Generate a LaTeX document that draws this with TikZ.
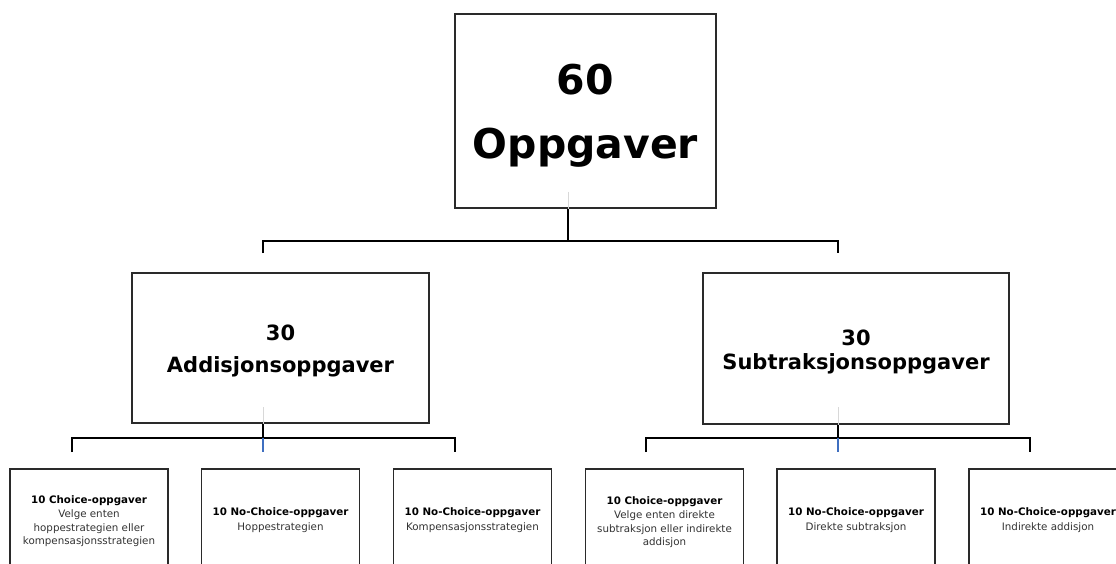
\documentclass[tikz,border=0pt]{standalone}
\usepackage{fontspec}
\setmainfont{DejaVu Sans}
\definecolor{boxline}{HTML}{2A2A2A}
\definecolor{subtext}{HTML}{333333}
\definecolor{faint}{HTML}{D8D8D8}
\definecolor{bluish}{HTML}{3F6FC0}
\newcommand{\myfs}[1]{\fontsize{#1}{#1}\selectfont}
\begin{document}
\begin{tikzpicture}[x=1pt,y=-1pt,
  box/.style={draw=boxline, line width=1.4pt, rectangle, inner sep=0pt, fill=white},
  conn/.style={draw=black, line width=1.3pt},
  faintline/.style={draw=faint, line width=1pt},
  blueline/.style={draw=bluish, line width=1.3pt},
  bigtxt/.style={anchor=base, inner sep=0pt, font=\bfseries\myfs{41}},
  midtxt/.style={anchor=base, inner sep=0pt, font=\bfseries\myfs{21}},
  smallbold/.style={anchor=base, inner sep=0pt, font=\bfseries\myfs{10.3}},
  smalltxt/.style={anchor=base, inner sep=0pt, text=subtext, font=\myfs{10.3}}]
\useasboundingbox (0,0) rectangle (1116,564);
\fill[white] (0,0) rectangle (1116,564);

% boxes
\node[box, minimum width=261pt, minimum height=194pt] (top) at (585.5,111) {};
\node[box, minimum width=297pt, minimum height=150pt] (add) at (280.5,348) {};
\node[box, minimum width=306pt, minimum height=151pt] (sub) at (856,348.5) {};
\foreach \n/\x in {b1/89, b2/280.5, b3/472.5, b4/664.5, b5/856, b6/1048}
  \node[box, minimum width=158pt, minimum height=104pt] (\n) at (\x,521) {};

% texts
\node[bigtxt] (t60) at (585.5,95) {60};
\node[bigtxt] (tOpp) at (585.5,159) {Oppgaver};
\node[midtxt] (a30) at (280.5,340.5) {30};
\node[midtxt] (aTxt) at (280.5,372.7) {Addisjonsoppgaver};
\node[midtxt] (s30) at (856,345.4) {30};
\node[midtxt] (sTxt) at (856,369.4) {Subtraksjonsoppgaver};

\node[smallbold] (b1a) at (89,503) {10 Choice-oppgaver};
\node[smalltxt] (b1b) at (89,517) {Velge enten};
\node[smalltxt] (b1c) at (89,531) {hoppestrategien eller};
\node[smalltxt] (b1d) at (89,544.5) {kompensasjonsstrategien};

\node[smallbold] (b2a) at (280.5,515) {10 No-Choice-oppgaver};
\node[smalltxt] (b2b) at (280.5,530) {Hoppestrategien};

\node[smallbold] (b3a) at (472.5,515) {10 No-Choice-oppgaver};
\node[smalltxt] (b3b) at (472.5,530) {Kompensasjonsstrategien};

\node[smallbold] (b4a) at (664.5,504) {10 Choice-oppgaver};
\node[smalltxt] (b4b) at (664.5,518) {Velge enten direkte};
\node[smalltxt] (b4c) at (664.5,532) {subtraksjon eller indirekte};
\node[smalltxt] (b4d) at (664.5,545) {addisjon};

\node[smallbold] (b5a) at (856,515) {10 No-Choice-oppgaver};
\node[smalltxt] (b5b) at (856,530) {Direkte subtraksjon};

\node[smallbold] (b6a) at (1048,515) {10 No-Choice-oppgaver};
\node[smalltxt] (b6b) at (1048,530) {Indirekte addisjon};

% junction coordinates
\coordinate (j0) at (568,241);
\coordinate (j0l) at (263,241);
\coordinate (j0r) at (838,241);
\coordinate (d0l) at (263,253);
\coordinate (d0r) at (838,253);

\coordinate (ja) at (263,438);
\coordinate (jal) at (72,438);
\coordinate (jar) at (455,438);
\coordinate (dal) at (72,452);
\coordinate (dam) at (263,452);
\coordinate (dar) at (455,452);

\coordinate (js) at (838,438);
\coordinate (jsl) at (646,438);
\coordinate (jsr) at (1030,438);
\coordinate (dsl) at (646,452);
\coordinate (dsm) at (838,452);
\coordinate (dsr) at (1030,452);

% faint marks inside boxes
\draw[faintline] (568,192) -- (top.south -| j0);
\draw[faintline] (263,407) -- (add.south -| ja);
\draw[faintline] (838,407) -- (sub.south -| js);

% connectors
\draw[conn] (top.south -| j0) -- (j0);
\draw[conn] (d0l) -- (j0l) -- (j0r) -- (d0r);

\draw[conn] (add.south -| ja) -- (ja);
\draw[conn] (dal) -- (jal) -- (jar) -- (dar);
\draw[blueline] (ja) -- (dam);

\draw[conn] (sub.south -| js) -- (js);
\draw[conn] (dsl) -- (jsl) -- (jsr) -- (dsr);
\draw[blueline] (js) -- (dsm);
\end{tikzpicture}
\end{document}
